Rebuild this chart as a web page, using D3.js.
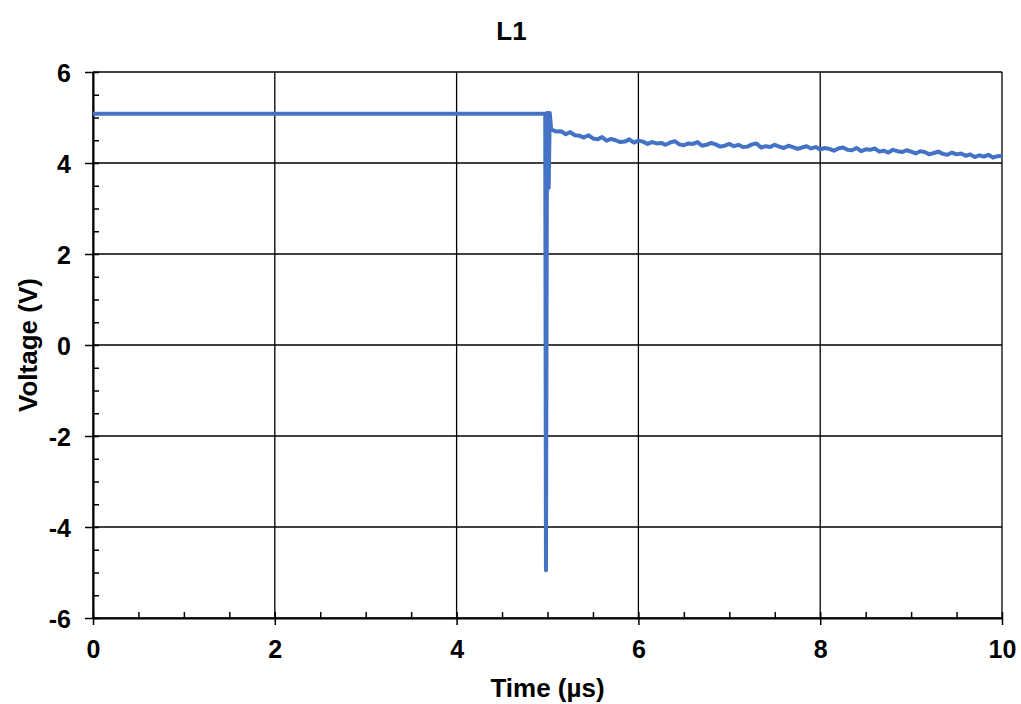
<!DOCTYPE html>
<html>
<head>
<meta charset="utf-8">
<script src="https://cdn.jsdelivr.net/npm/d3@7/dist/d3.min.js"></script>
<style>
  body { margin: 0; background: #fff; }
  svg { display: block; font-family: "Liberation Sans", Arial, sans-serif; }
</style>
</head>
<body>
<script>
// step part (before and at the switching event)
const stepT = [0, 4.975, 4.983, 4.995, 5.005, 5.013, 5.025, 5.04];
const stepV = [5.08, 5.08, -4.95, 5.10, 5.10, 3.45, 5.10, 4.75];

// noisy tail after the event, sampled every 0.05 µs from 5.05 µs
const tailT0 = 5.05;
const tailDt = 0.05;
const tailV = [
  4.73, 4.69, 4.70, 4.63, 4.68, 4.61, 4.60, 4.56, 4.61, 4.54,
  4.52, 4.57, 4.49, 4.53, 4.50, 4.46, 4.47, 4.52, 4.45, 4.49,
  4.47, 4.42, 4.46, 4.43, 4.44, 4.40, 4.45, 4.48, 4.41, 4.39,
  4.43, 4.42, 4.46, 4.38, 4.40, 4.44, 4.41, 4.36, 4.38, 4.42,
  4.37, 4.40, 4.35, 4.36, 4.41, 4.43, 4.34, 4.37, 4.35, 4.40,
  4.36, 4.33, 4.38, 4.35, 4.31, 4.34, 4.37, 4.32, 4.35, 4.30,
  4.33, 4.31, 4.27, 4.32, 4.34, 4.29, 4.28, 4.33, 4.26, 4.30,
  4.29, 4.32, 4.25, 4.27, 4.23, 4.29, 4.26, 4.24, 4.28, 4.25,
  4.21, 4.26, 4.24, 4.19, 4.22, 4.25, 4.20, 4.18, 4.23, 4.19,
  4.21, 4.16, 4.19, 4.13, 4.17, 4.14, 4.18, 4.12, 4.15, 4.16
];

const xTicks = [0, 2, 4, 6, 8, 10];
const yTicks = [-6, -4, -2, 0, 2, 4, 6];

const W = 1021, H = 704;
const margin = { left: 93, right: 19, top: 72, bottom: 86 };
const iw = W - margin.left - margin.right;
const ih = H - margin.top - margin.bottom;

const data = stepT.map((t, i) => [t, stepV[i]])
  .concat(tailV.map((v, i) => [tailT0 + i * tailDt, v]));

const x = d3.scaleLinear().domain([0, 10]).range([0, iw]);
const y = d3.scaleLinear().domain([-6, 6]).range([ih, 0]);

const svg = d3.select("body").append("svg").attr("width", W).attr("height", H);
const g = svg.append("g").attr("transform", `translate(${margin.left},${margin.top})`);

// grid
g.append("g").attr("class", "grid")
  .selectAll("line.h").data(yTicks).enter().append("line")
  .attr("x1", 0).attr("x2", iw)
  .attr("y1", d => y(d)).attr("y2", d => y(d))
  .attr("stroke", "#000").attr("stroke-width", 1.3);
g.append("g").attr("class", "grid")
  .selectAll("line.v").data(xTicks).enter().append("line")
  .attr("y1", 0).attr("y2", ih)
  .attr("x1", d => x(d)).attr("x2", d => x(d))
  .attr("stroke", "#000").attr("stroke-width", 1.3);

// minor ticks (inside)
const xMinor = d3.range(0, 10.01, 0.5);
const yMinor = d3.range(-6, 6.01, 0.5);
g.append("g").attr("transform", `translate(0,${ih})`)
  .call(d3.axisTop(x).tickValues(xMinor).tickSize(6).tickFormat(""))
  .call(s => s.select(".domain").remove())
  .selectAll("line").attr("stroke-width", 1.5);
g.append("g")
  .call(d3.axisRight(y).tickValues(yMinor).tickSize(6).tickFormat(""))
  .call(s => s.select(".domain").remove())
  .selectAll("line").attr("stroke-width", 1.5);

// major axes
const fmt = d => String(d);
const xAxis = g.append("g").attr("transform", `translate(0,${ih})`)
  .call(d3.axisBottom(x).tickValues(xTicks).tickFormat(fmt).tickSize(7).tickSizeOuter(0).tickPadding(15));
const yAxis = g.append("g")
  .call(d3.axisLeft(y).tickValues(yTicks).tickFormat(fmt).tickSize(8).tickSizeOuter(0).tickPadding(14));
[xAxis, yAxis].forEach(a => {
  a.select(".domain").attr("stroke-width", 2);
  a.selectAll(".tick line").attr("stroke-width", 1.5);
  a.selectAll(".tick text")
    .style("font-size", "25px").style("font-weight", "bold").attr("fill", "#000");
});
yAxis.selectAll(".tick text").attr("dy", "0.36em");

// series
g.append("path").datum(data)
  .attr("fill", "none")
  .attr("stroke", "#4472C4")
  .attr("stroke-width", 4)
  .attr("stroke-linejoin", "round")
  .attr("d", d3.line().x(d => x(d[0])).y(d => y(d[1])));

// titles
svg.append("text").attr("x", W / 2 + 1).attr("y", 40)
  .attr("text-anchor", "middle").style("font-size", "26px").style("font-weight", "bold")
  .text("L1");
svg.append("text").attr("x", margin.left + iw / 2).attr("y", 697)
  .attr("text-anchor", "middle").style("font-size", "26px").style("font-weight", "bold")
  .text("Time (µs)");
svg.append("text")
  .attr("transform", `translate(37,${margin.top + ih / 2}) rotate(-90)`)
  .attr("text-anchor", "middle").style("font-size", "26px").style("font-weight", "bold")
  .text("Voltage (V)");
</script>
</body>
</html>
